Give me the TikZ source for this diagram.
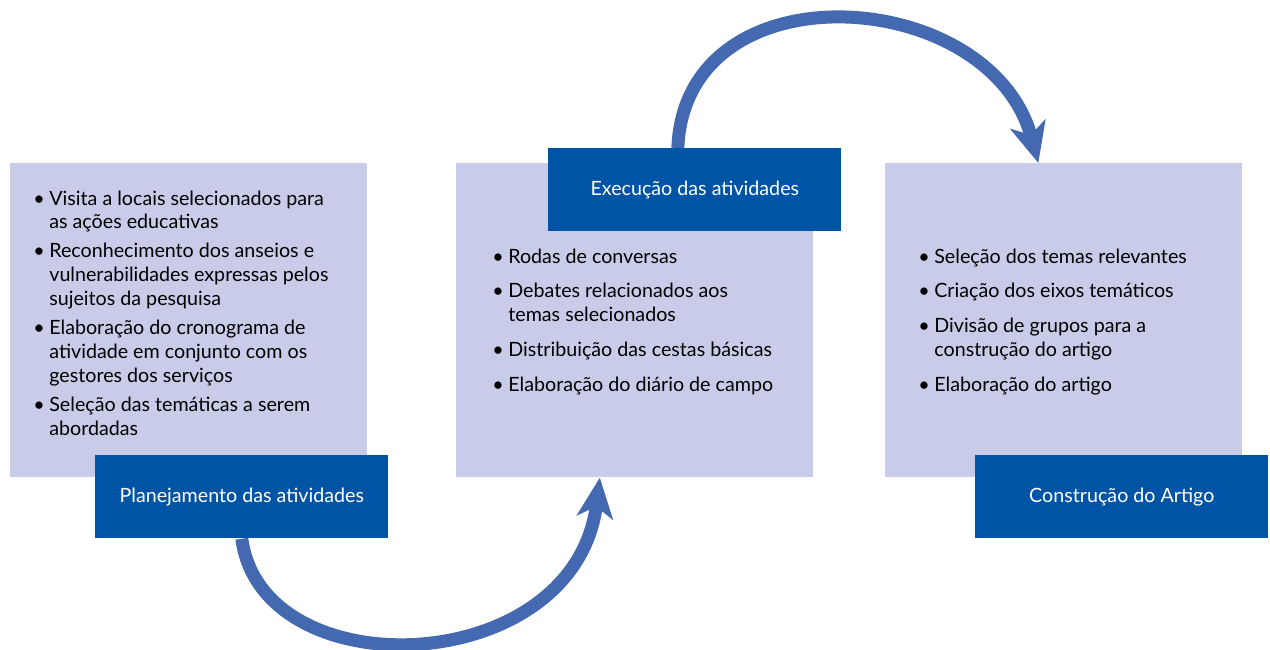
\documentclass[tikz,border=0pt]{standalone}
\usepackage{fontspec}
\setmainfont{Lato}
\usetikzlibrary{arrows.meta,positioning,calc}
\definecolor{panelfill}{RGB}{200,204,233}
\definecolor{headfill}{RGB}{0,84,166}
\definecolor{loopblue}{RGB}{68,105,177}
\newcommand{\bul}{\makebox[0.32cm][l]{\textbullet}}

\begin{document}
\begin{tikzpicture}[x=0.02cm, y=-0.02cm, line join=round,
  panel/.style={fill=panelfill, draw=none, anchor=north west, inner sep=0pt,
    minimum width=7.14cm, minimum height=6.28cm},
  head/.style={fill=headfill, draw=none, anchor=north west, inner sep=0pt,
    minimum width=5.86cm, minimum height=1.66cm, text=white,
    font=\fontsize{11.2}{13.6}\selectfont},
  listtext/.style={anchor=north west, inner sep=0pt,
    font=\fontsize{11.2}{13.6}\selectfont},
  loop/.style={draw=loopblue, line width=0.26cm,
    -{Stealth[length=0.8cm, width=0.72cm, inset=0.22cm]}}]
\useasboundingbox (0,0) rectangle (1270,649);

% light panels
\node[panel] (planbox)   at (10,163)  {};
\node[panel] (execbox)   at (456,163) {};
\node[panel] (constrbox) at (885,163) {};

% dark headings
\node[head] (planhead)   at (95,455)  {Planejamento das atividades};
\node[head] (exechead)   at (548,148) {Execução das atividades};
\node[head] (constrhead) at (975,455) {Construção do Artigo};

% lists
\node[listtext] (planlist) at (33,188) {%
\begin{tabular}{@{}l@{}l@{}}
\bul & Visita a locais selecionados para\\
     & as ações educativas\\[0.1cm]
\bul & Reconhecimento dos anseios e\\
     & vulnerabilidades expressas pelos\\
     & sujeitos da pesquisa\\[0.1cm]
\bul & Elaboração do cronograma de\\
     & atividade em conjunto com os\\
     & gestores dos serviços\\[0.1cm]
\bul & Seleção das temáticas a serem\\
     & abordadas
\end{tabular}};
\node[listtext] (execlist) at (492,246) {%
\begin{tabular}{@{}l@{}l@{}}
\bul & Rodas de conversas\\[0.22cm]
\bul & Debates relacionados aos\\
     & temas selecionados\\[0.22cm]
\bul & Distribuição das cestas básicas\\[0.22cm]
\bul & Elaboração do diário de campo
\end{tabular}};
\node[listtext] (constrlist) at (918,246) {%
\begin{tabular}{@{}l@{}l@{}}
\bul & Seleção dos temas relevantes\\[0.22cm]
\bul & Criação dos eixos temáticos\\[0.22cm]
\bul & Divisão de grupos para a\\
     & construção do artigo\\[0.22cm]
\bul & Elaboração do artigo
\end{tabular}};

% loops
\draw[loop] (planhead.south) .. controls +(20,152) and +(-25,202) .. ([xshift=-0.7cm]execbox.south);
\draw[loop] ([xshift=-0.34cm]exechead.north) .. controls +(7,-183) and +(-48,-178) .. ([xshift=-0.51cm]constrbox.north);
\end{tikzpicture}
\end{document}
